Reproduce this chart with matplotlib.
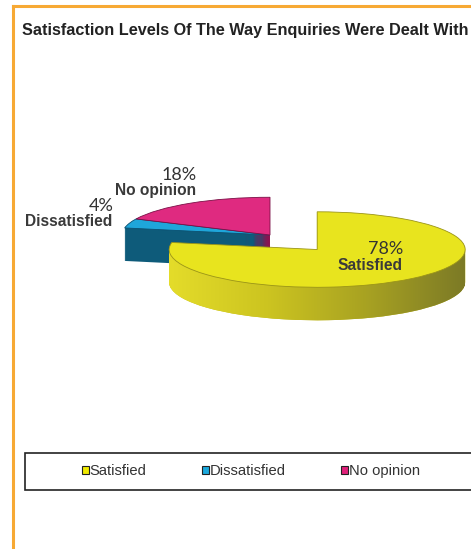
import numpy as np
import matplotlib.pyplot as plt
import matplotlib.patches as mpatches
from matplotlib.path import Path
from matplotlib.lines import Line2D
from matplotlib.colors import LinearSegmentedColormap

# data
labels = ["Satisfied", "Dissatisfied", "No opinion"]
shares = [78, 4, 18]
explode = [0.5, 0, 0]          # fraction of radius
top_colors = ["#e8e41e", "#1fa6da", "#df2a80"]
side_colors = ["#c4bc20", "#0e5b7a", "#8c1250"]
edge_colors = ["#9a9418", "#0c5070", "#7a1046"]
legend_colors = ["#f0ea00", "#1aa8dc", "#e0207a"]

W, H = 471, 549
SQ = 0.255       # vertical squash of the pie
DEPTH = 33       # px
R = 148          # px (horizontal radius)
CX, CY = 270, 235  # pixel centre (from top) of unexploded pie

fig = plt.figure(figsize=(W / 100, H / 100), dpi=100)
ax = fig.add_axes([0, 0, 1, 1])

ex = [e * R for e in explode]
cy_data = (H - CY) / SQ
side_paths = []
for d in range(DEPTH, -1, -1):
    top = d == 0
    cols = top_colors if top else side_colors
    wedges, _ = ax.pie(shares, explode=ex, colors=cols, startangle=90,
                       counterclock=False, radius=R,
                       center=(CX, cy_data - d / SQ),
                       wedgeprops=dict(linewidth=0))
    for i, w in enumerate(wedges):
        w.set_zorder((100 if i == 0 else 0) + (DEPTH - d))
        if top:
            w.set_edgecolor(edge_colors[i])
            w.set_linewidth(0.6)
    if not top:
        side_paths.append(wedges[0].get_path())

# horizontal shading on the side of the big slice
side_cmap = LinearSegmentedColormap.from_list(
    "side", ["#e4dc2a", "#ccc420", "#a8a222", "#7c7a26"])
x0 = CX + ex[0] * np.cos(np.deg2rad(-50.4)) - R
img = ax.imshow(np.linspace(0, 1, 256)[None, :], cmap=side_cmap,
                extent=(x0, x0 + 2 * R, 0, H / SQ), aspect="auto",
                interpolation="bilinear", zorder=100 + DEPTH - 0.5)
img.set_clip_path(Path.make_compound_path(*side_paths), ax.transData)

ax.set_xlim(0, W)
ax.set_ylim(0, H / SQ)
ax.set_aspect("auto")
ax.axis("off")


def px(x, y):
    return x / W, 1 - y / H


# frame lines (orange)
fig.add_artist(Line2D([13 / W, 13 / W], [0, 1 - 6 / H], color="#f7a934", lw=2.2))
fig.add_artist(Line2D([13 / W, 1], [1 - 6 / H, 1 - 6 / H], color="#f7a934", lw=2.2))

fig.text(*px(22, 31), "Satisfaction Levels Of The Way Enquiries Were Dealt With",
         fontsize=11.7, fontweight="bold", family="Liberation Sans", color="#222222",
         va="center", ha="left")

# slice labels
pct_kw = dict(fontsize=13, family="Lato", color="#333333",
              ha="center", va="center")
lab_kw = dict(fontsize=11.2, family="Liberation Sans", fontweight="bold",
              color="#3a3a3a", ha="center", va="center")
fig.text(*px(179, 175), f"{shares[2]}%", **pct_kw)
fig.text(*px(156, 190), labels[2], **lab_kw)
fig.text(*px(101, 206), f"{shares[1]}%", **pct_kw)
fig.text(*px(69, 222), labels[1], **lab_kw)
fig.text(*px(386, 249), f"{shares[0]}%", **pct_kw)
fig.text(*px(370, 266), labels[0], **lab_kw)

# legend box
fig.add_artist(mpatches.Rectangle(px(25, 490), (W - 25 + 10) / W, 37 / H,
                                  facecolor="white", edgecolor="#222222", lw=1.2))
handles = [mpatches.Patch(facecolor=c, edgecolor="#222222", lw=0.8, label=l)
           for c, l in zip(legend_colors, labels)]
fig.legend(handles=handles, loc="center", bbox_to_anchor=px(251, 471), ncol=3,
           frameon=False, handlelength=0.5, handleheight=0.5, handletextpad=0.05,
           columnspacing=3.75, prop=dict(family="Liberation Sans", size=10.6),
           labelcolor="#333333")

fig.savefig("out.png", dpi=100)
